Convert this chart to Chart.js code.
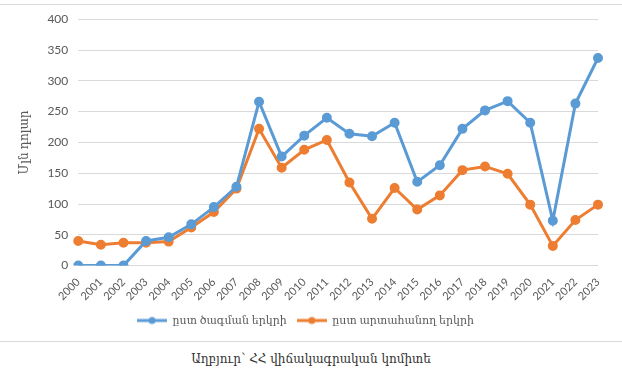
<!DOCTYPE html>
<html>
<head>
<meta charset="utf-8">
<script src="https://cdn.jsdelivr.net/npm/chart.js@4"></script>
<style>
  body { margin: 0; background: #fff; width: 622px; height: 386px; overflow: hidden; }
  #frame { position: absolute; left: 0; top: 4px; width: 622px; height: 336px;
           border-top: 1px solid #d9d9d9; border-bottom: 1px solid #d9d9d9; }
  #wrap { position: absolute; left: 0; top: -3px; width: 622px; height: 338px; }
  #source { position: absolute; left: 0; top: 352px; width: 622px; text-align: center;
            font: 12px "DejaVu Serif", serif; color: #333; }
</style>
</head>
<body>
<div id="frame"><div id="wrap"><canvas id="c"></canvas></div></div>
<div id="source">Աղբյուր՝ ՀՀ վիճակագրական կոմիտե</div>
<script>
const years = ['2000','2001','2002','2003','2004','2005','2006','2007','2008','2009','2010','2011',
  '2012','2013','2014','2015','2016','2017','2018','2019','2020','2021','2022','2023'];
const byOrigin = [0, 0, 0, 40, 46, 67, 95, 128, 266, 177, 211, 240,
  214, 210, 232, 136, 163, 222, 252, 267, 232, 73, 263, 337];
const byExporter = [40, 34, 37, 37, 39, 62, 87, 125, 222, 159, 188, 204,
  135, 76, 126, 91, 114, 155, 161, 149, 99, 32, 74, 99];
const seriesNames = ['ըստ ծագման երկրի', 'ըստ արտահանող երկրի'];
const yTitle = 'Մլն դոլար';

const blue = '#5B9BD5';
const orange = '#ED7D31';
const textFont = 'Lato, "DejaVu Serif", sans-serif';

// legend marker: short line with a dot in the middle
function legendIcon(color) {
  const cv = document.createElement('canvas');
  cv.width = 30; cv.height = 10;
  const g = cv.getContext('2d');
  g.strokeStyle = color; g.lineWidth = 3;
  g.beginPath(); g.moveTo(0, 5); g.lineTo(30, 5); g.stroke();
  g.fillStyle = color;
  g.beginPath(); g.arc(15, 5, 3.5, 0, Math.PI * 2); g.fill();
  return cv;
}

new Chart(document.getElementById('c'), {
  type: 'line',
  data: {
    labels: years,
    datasets: [{
      label: seriesNames[0],
      data: byOrigin,
      borderColor: blue,
      backgroundColor: blue,
      borderWidth: 3,
      pointRadius: 3.5,
      pointStyle: 'circle',
      tension: 0
    }, {
      label: seriesNames[1],
      data: byExporter,
      borderColor: orange,
      backgroundColor: orange,
      borderWidth: 3,
      pointRadius: 3.5,
      pointStyle: 'circle',
      tension: 0
    }]
  },
  options: {
    responsive: true,
    maintainAspectRatio: false,
    animation: false,
    layout: { padding: { left: 13, right: 24, top: 2, bottom: 4 } },
    plugins: {
      tooltip: { enabled: false },
      legend: {
        position: 'bottom',
        labels: {
          usePointStyle: true,
          pointStyleWidth: 30,
          boxHeight: 10,
          padding: 10,
          color: '#595959',
          font: { family: textFont, size: 11 },
          generateLabels(chart) {
            return chart.data.datasets.map((ds, i) => ({
              text: ds.label,
              fontColor: '#595959',
              pointStyle: legendIcon(ds.borderColor),
              datasetIndex: i,
              lineWidth: 0,
              strokeStyle: 'transparent',
              fillStyle: ds.borderColor
            }));
          }
        }
      }
    },
    scales: {
      x: {
        grid: { display: false },
        border: { display: false },
        ticks: {
          color: '#595959',
          font: { family: textFont, size: 11 },
          autoSkip: false,
          maxRotation: 45,
          minRotation: 45,
          padding: 2
        }
      },
      y: {
        min: 0,
        max: 400,
        ticks: {
          stepSize: 50,
          color: '#595959',
          font: { family: textFont, size: 12 },
          padding: 10
        },
        grid: { color: '#d9d9d9', drawTicks: false },
        border: { display: false },
        title: {
          display: true,
          text: yTitle,
          color: '#595959',
          font: { family: textFont, size: 12 },
          padding: { bottom: 6 }
        }
      }
    }
  }
});
</script>
</body>
</html>
